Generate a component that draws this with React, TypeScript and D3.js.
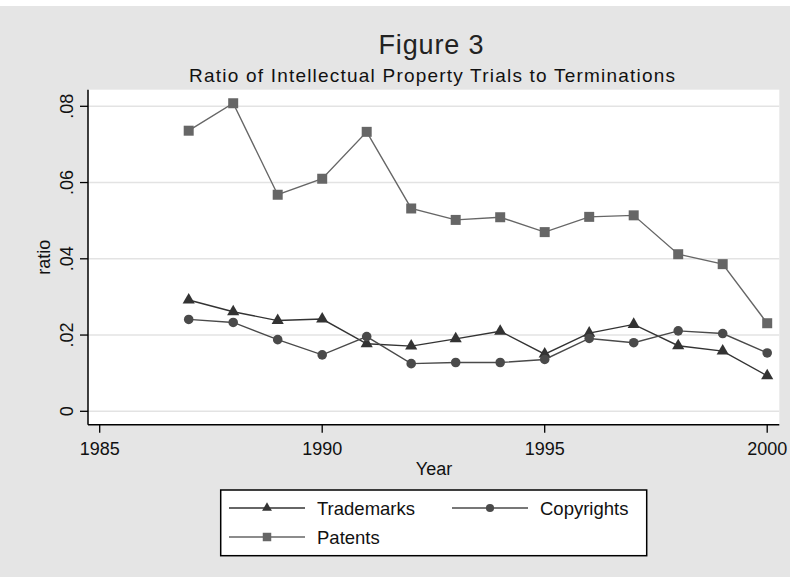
import React from "react";
import * as d3 from "d3";

const years = [1987, 1988, 1989, 1990, 1991, 1992, 1993, 1994, 1995, 1996, 1997, 1998, 1999, 2000];
const trademarks = [0.0292, 0.0261, 0.0238, 0.0242, 0.0177, 0.0171, 0.019, 0.021, 0.015, 0.0205, 0.0228, 0.0172, 0.0158, 0.0093];
const copyrights = [0.0241, 0.0233, 0.0188, 0.0148, 0.0196, 0.0125, 0.0128, 0.0128, 0.0136, 0.0191, 0.018, 0.0211, 0.0204, 0.0153];
const patents = [0.0736, 0.0808, 0.0568, 0.061, 0.0733, 0.0532, 0.0502, 0.0509, 0.047, 0.051, 0.0514, 0.0412, 0.0386, 0.0231];
const yTicks = [0, 0.02, 0.04, 0.06, 0.08];
const yTickLabels = ["0", ".02", ".04", ".06", ".08"];
const xTicks = [1985, 1990, 1995, 2000];
const seriesNames = ["Trademarks", "Copyrights", "Patents"];

const W = 790;
const H = 577;
const FONT = "'Liberation Sans', Arial, Helvetica, sans-serif";

export default function App() {
  const plotL = 88, plotR = 779.3, plotT = 89.7, plotB = 424.7;
  const x = d3.scaleLinear().domain([1985, 2000]).range([99.7, 767.2]);
  const y = d3.scaleLinear().domain([0, 0.08]).range([411.3, 106.3]);

  const series = [
    { name: seriesNames[0], values: trademarks, color: "#333333", line: "#333333", sym: d3.symbolTriangle, size: 64, lsize: 42 },
    { name: seriesNames[1], values: copyrights, color: "#4a4a4a", line: "#4a4a4a", sym: d3.symbolCircle, size: 72, lsize: 52 },
    { name: seriesNames[2], values: patents, color: "#666666", line: "#666666", sym: d3.symbolSquare, size: 100, lsize: 72 },
  ];

  const lineGen = (vals: number[]) =>
    d3.line<number>().x((_, i) => x(years[i])).y((d) => y(d))(vals) || "";

  const legendItems = [
    { s: series[0], kx1: 229, kx2: 305, ky: 508, tx: 317 },
    { s: series[1], kx1: 452, kx2: 528, ky: 508, tx: 540 },
    { s: series[2], kx1: 229, kx2: 305, ky: 537, tx: 317 },
  ];

  return (
    <svg width={W} height={H} style={{ position: "absolute", left: 0, top: 0, display: "block" }} fontFamily={FONT}>
      <rect x={0} y={0} width={W} height={H} fill="#e5e5e5" />
      <rect x={0} y={0} width={W} height={6} fill="#ffffff" />
      <rect x={plotL} y={plotT} width={plotR - plotL} height={plotB - plotT} fill="#ffffff" />

      {/* gridlines */}
      {yTicks.map((t) => (
        <line key={"g" + t} x1={plotL} x2={plotR} y1={y(t)} y2={y(t)} stroke="#e3e3e3" strokeWidth={1.5} />
      ))}

      {/* titles */}
      <text x={431} y={54} textAnchor="middle" fontSize={27} fill="#222" textLength={105} lengthAdjust="spacing">Figure 3</text>
      <text x={432} y={82} textAnchor="middle" fontSize={19} fill="#111" textLength={486} lengthAdjust="spacing">Ratio of Intellectual Property Trials to Terminations</text>

      {/* axes */}
      <line x1={plotL} x2={plotL} y1={plotT} y2={plotB} stroke="#000" strokeWidth={1.5} />
      <line x1={plotL} x2={plotR} y1={plotB} y2={plotB} stroke="#000" strokeWidth={1.5} />
      {yTicks.map((t, i) => (
        <g key={"yt" + t}>
          <line x1={80} x2={plotL} y1={y(t)} y2={y(t)} stroke="#000" strokeWidth={1.3} />
          <text transform={`translate(73,${y(t)}) rotate(-90)`} textAnchor="middle" fontSize={18} fill="#111">{yTickLabels[i]}</text>
        </g>
      ))}
      {xTicks.map((t) => (
        <g key={"xt" + t}>
          <line x1={x(t)} x2={x(t)} y1={plotB} y2={plotB + 8} stroke="#000" strokeWidth={1.3} />
          <text x={x(t)} y={455} textAnchor="middle" fontSize={18} fill="#111">{t}</text>
        </g>
      ))}
      <text transform={`translate(50,${(plotT + plotB) / 2}) rotate(-90)`} textAnchor="middle" fontSize={18} fill="#111">ratio</text>
      <text x={434} y={475} textAnchor="middle" fontSize={18} fill="#111">Year</text>

      {/* series */}
      {series.map((s) => (
        <g key={s.name}>
          <path d={lineGen(s.values)} fill="none" stroke={s.line} strokeWidth={1.4} />
          {s.values.map((v, i) => (
            <path key={i} transform={`translate(${x(years[i])},${y(v)})`} d={d3.symbol(s.sym, s.size)() || ""} fill={s.color} />
          ))}
        </g>
      ))}

      {/* legend */}
      <rect x={220.7} y={490} width={426} height={65.7} fill="#ffffff" stroke="#000" strokeWidth={1.5} />
      {legendItems.map((it) => (
        <g key={"l" + it.s.name}>
          <line x1={it.kx1} x2={it.kx2} y1={it.ky} y2={it.ky} stroke={it.s.line} strokeWidth={1.4} />
          <path transform={`translate(${(it.kx1 + it.kx2) / 2},${it.ky})`} d={d3.symbol(it.s.sym, it.s.lsize)() || ""} fill={it.s.color} />
          <text x={it.tx} y={it.ky + 6.5} fontSize={18.5} fill="#111">{it.s.name}</text>
        </g>
      ))}
    </svg>
  );
}
